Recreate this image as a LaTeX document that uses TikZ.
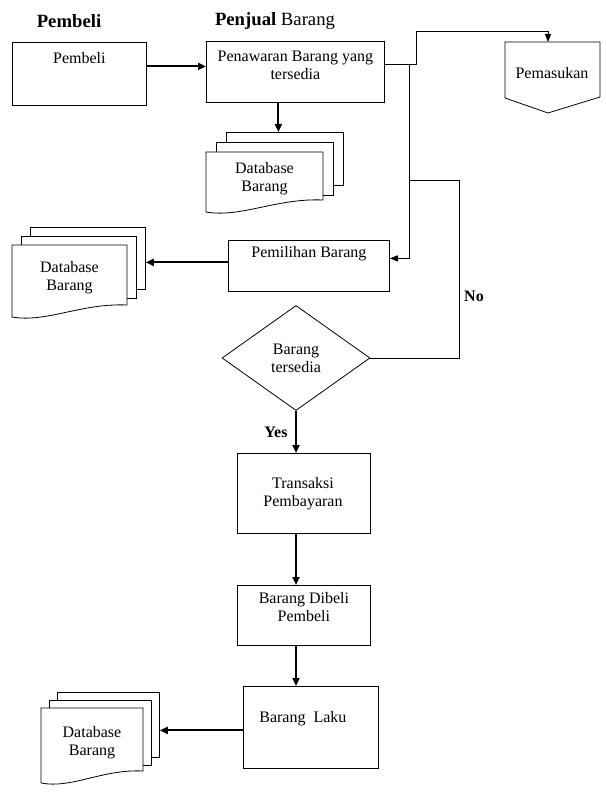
\documentclass[tikz,border=0pt]{standalone}
\usepackage{fontspec}
\setmainfont{Liberation Serif}
\usetikzlibrary{arrows.meta, positioning, shapes.geometric}

\tikzset{
  proc/.style={draw, line width=0.8pt, anchor=north west, inner sep=0pt},
  pagebox/.style={draw, fill=white, line width=0.8pt, anchor=north west, inner sep=0pt},
  lbl/.style={font=\fontsize{16}{18}\selectfont, align=center, inner sep=0pt},
  head/.style={font=\fontsize{18.7}{21}\selectfont, inner sep=0pt},
  link/.style={line width=0.8pt},
  larrow/.style={link, -{Triangle[length=8pt,width=6pt]}},
  arrow/.style={line width=2pt, -{Triangle[length=8pt,width=7pt]}},
}

\newcommand\dbstack[7]{%
  \node[pagebox, minimum width=#4pt, minimum height=#7pt] (#1-back) at (#2+2*#6, #3-2*#6) {};
  \node[pagebox, minimum width=#4pt, minimum height=#7pt] (#1-mid) at (#2+#6, #3-#6) {};
  \draw[fill=white, line width=0.8pt] (#2,#3) -- (#2+#4,#3) -- (#2+#4,#3+#5-12)
    .. controls (#2+0.6*#4,#3+#5-14) and (#2+0.3*#4,#3+#5+6) .. (#2,#3+#5) -- cycle;
  \node[lbl] (#1) at (#2+#4/2, #3+#5/2-3) {Database\\Barang};
}

\begin{document}
\begin{tikzpicture}[x=1pt, y=-1pt]
    \useasboundingbox (0,0) rectangle (605,799);

    \node[head] (h-pembeli) at (69,21) {\textbf{Pembeli}};
    \node[head] (h-penjual) at (275,21) {\textbf{Penjual} Barang};

    \node[proc, minimum width=134pt, minimum height=63pt] (pembeli) at (12,42) {};
    \node[lbl] (pembeli-t) at ([yshift=-16pt]pembeli.north) {Pembeli};

    \node[proc, minimum width=178pt, minimum height=61pt] (penawaran) at (206,41) {};
    \node[lbl] (penawaran-t) at ([yshift=-24.5pt]penawaran.north) {Penawaran Barang yang\\tersedia};

    \draw[link] (505,42) -- (600,42) -- (600,97) -- (548,113) -- (505,98) -- cycle;
    \node[lbl] (pemasukan) at (552,73) {Pemasukan};
    \coordinate (pemasukan-in) at (548,42);

    \dbstack{db1}{206}{152}{117}{60}{10}{53}
    \dbstack{db2}{12}{245}{115}{72}{9}{62}
    \dbstack{db3}{41}{708}{102}{75}{8}{65}

    \node[proc, minimum width=161pt, minimum height=51pt] (pemilihan) at (228,240) {};
    \node[lbl] (pemilihan-t) at ([yshift=-14pt]pemilihan.north) {Pemilihan Barang};

    \node[draw, diamond, line width=0.8pt, minimum width=148pt, minimum height=105pt,
          inner sep=0pt, lbl] (cek) at (296,358) {Barang\\tersedia};

    \node[proc, minimum width=133pt, minimum height=80pt] (transaksi) at (237,453) {};
    \node[lbl] (transaksi-t) at (303,494) {Transaksi\\Pembayaran};

    \node[proc, minimum width=133pt, minimum height=60pt] (dibeli) at (237,585) {};
    \node[lbl] (dibeli-t) at ([yshift=-22.5pt]dibeli.north) {Barang Dibeli\\Pembeli};

    \node[proc, minimum width=135pt, minimum height=82pt] (laku) at (243,686) {};
    \node[lbl] (laku-t) at ([xshift=-8pt,yshift=-33pt]laku.north) {Barang\ \ Laku};

    \node[lbl, font=\fontsize{16}{18}\selectfont\bfseries] (no) at (474,296) {No};
    \node[lbl, font=\fontsize{16}{18}\selectfont\bfseries] (yes) at (276,432) {Yes};

    \coordinate (j1) at (409,64);
    \coordinate (j2) at (409,180);

    \draw[arrow] ([yshift=7.5pt]pembeli.east) -- ([yshift=7.5pt]pembeli.east -| penawaran.west);
    \draw[larrow] ([yshift=7.5pt]penawaran.east) -- ++(32,0) |- ([yshift=11pt]pemasukan-in) -- (pemasukan-in);
    \draw[larrow] (j1) |- ([yshift=7.5pt]pemilihan.east);
    \draw[arrow] ([xshift=-17pt]penawaran.south) -- ([xshift=-17pt]penawaran.south |- db1-back.north);
    \draw[arrow] ([yshift=3.5pt]pemilihan.west) -- ([yshift=3.5pt]pemilihan.west -| db2-back.east);
    \draw[link] (cek.east) -- ++(89,0) |- (j2);
    \draw[arrow] (cek.south) -- (cek.south |- transaksi.north);
    \draw[arrow] (cek.south |- transaksi.south) -- (cek.south |- dibeli.north);
    \draw[arrow] (cek.south |- dibeli.south) -- (cek.south |- laku.north);
    \draw[arrow] ([yshift=-3pt]laku.west) -- ([yshift=-3pt]laku.west -| db3-back.east);
\end{tikzpicture}
\end{document}
